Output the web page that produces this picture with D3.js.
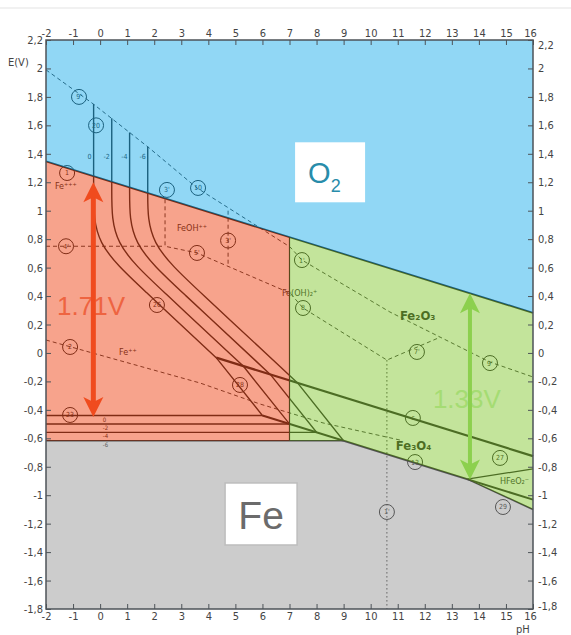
<!DOCTYPE html>
<html>
<head>
<meta charset="utf-8">
<script src="https://cdn.jsdelivr.net/npm/d3@7"></script>
<style>
body { margin: 0; background: #fff; }
svg { display: block; font-family: "DejaVu Sans Condensed", "DejaVu Sans", sans-serif; }
</style>
</head>
<body>
<div id="chart"></div>
<script>
// axis ticks
var phTicks = [-2, -1, 0, 1, 2, 3, 4, 5, 6, 7, 8, 9, 10, 11, 12, 13, 14, 15, 16];
var eTicks = [2.2, 2, 1.8, 1.6, 1.4, 1.2, 1, 0.8, 0.6, 0.4, 0.2, 0, -0.2, -0.4, -0.6, -0.8, -1, -1.2, -1.4, -1.6, -1.8];

// coloured domains, points as [pH, E]
var regionO2 = [[-2, 2.2], [16, 2.2], [16, 0.282], [-2, 1.346]];
var regionAcid = [[-2, 1.346], [7, 0.814], [7, -0.617], [-2, -0.617]];
var regionBase = [[7, 0.814], [16, 0.282], [16, -1.101], [13.57, -0.887], [9, -0.617], [7, -0.617]];
var regionFe = [[-2, -0.617], [9, -0.617], [13.57, -0.887], [16, -1.101], [16, -1.8], [-2, -1.8]];

// main equilibrium lines
var lineO2 = [[-2, 1.346], [16, 0.282]];
var lineFe2O3Fe3O4 = [[4.29, -0.033], [16, -0.725]];
var lineFe3O4Fe = [[6.0, -0.44], [16, -1.031]];
var lineFe3O4HFeO2 = [[13.57, -0.887], [16, -0.815]];
var lineHFeO2Fe = [[13.57, -0.887], [16, -1.101]];
var lineNeutral = [[7, 0.814], [7, -0.617]];

// solubility curves for log c = 0, -2, -4, -6
var concLabels = ["0", "-2", "-4", "-6"];
var curveUpper = [
    [[-0.24, 1.75], [-0.24, 1.12], [-0.24, 0.771], [1.56, 0.452], [4.29, -0.033]],
    [[0.43, 1.65], [0.43, 1.12], [0.43, 0.770], [2.23, 0.451], [5.29, -0.092]],
    [[1.09, 1.55], [1.09, 1.12], [1.09, 0.771], [2.89, 0.452], [6.29, -0.151]],
    [[1.76, 1.45], [1.76, 1.12], [1.76, 0.771], [3.56, 0.452], [7.29, -0.209]]
];
var curveLower = [
    [[4.29, -0.033], [6.0, -0.44], [-2, -0.44]],
    [[5.29, -0.092], [7.0, -0.499], [-2, -0.499]],
    [[6.29, -0.151], [8.0, -0.558], [-2, -0.558]],
    [[7.29, -0.209], [9.0, -0.617], [-2, -0.617]]
];

// dashed lines
var dashTop = [[-2, 1.99], [-0.3, 1.757], [1.77, 1.448], [3.58, 1.16], [7.02, 0.745], [7.46, 0.653], [10.71, 0.288], [14.41, -0.064], [16, -0.169]];
var dashFe3 = [[-2, 0.75], [2.4, 0.75]];
var dashMid = [[2.4, 1.08], [2.4, 0.75], [3.58, 0.703], [7.02, 0.421], [7.5, 0.316], [10.6, -0.05], [12.56, 0.11]];
var dashV = [[4.73, 1.0], [4.73, 0.61]];
var dashFe2 = [[-2, 0.091], [3.69, -0.211], [5.91, -0.359], [8.24, -0.492], [11.08, -0.612]];
var dotV = [[10.6, -0.05], [10.6, -1.8]];

// circled line numbers
var circleMarks = [
    {t: "9'", pH: -0.78, E: 1.80}, {t: "20", pH: -0.15, E: 1.60}, {t: "1", pH: -1.22, E: 1.265},
    {t: "3'", pH: 2.47, E: 1.146}, {t: "10", pH: 3.62, E: 1.16}, {t: "4'", pH: -1.26, E: 0.75},
    {t: "3'", pH: 4.73, E: 0.79}, {t: "5'", pH: 3.58, E: 0.703}, {t: "1'", pH: 7.46, E: 0.653},
    {t: "8", pH: 7.5, E: 0.316}, {t: "7'", pH: 11.71, E: 0.007}, {t: "9'", pH: 14.41, E: -0.071},
    {t: "26", pH: 2.1, E: 0.337}, {t: "28", pH: 5.17, E: -0.225}, {t: "2", pH: -1.11, E: 0.042},
    {t: "23", pH: -1.11, E: -0.436}, {t: "c", pH: 11.56, E: -0.457}, {t: "13", pH: 11.64, E: -0.767},
    {t: "27", pH: 14.78, E: -0.738}, {t: "29", pH: 14.89, E: -1.083}, {t: "1'", pH: 10.6, E: -1.118}
];

// species names
var speciesLabels = [
    {t: "Fe⁺⁺⁺", pH: -1.67, E: 1.15, bold: false},
    {t: "FeOH⁺⁺", pH: 2.84, E: 0.857, bold: false},
    {t: "Fe(OH)₂⁺", pH: 6.72, E: 0.40, bold: false},
    {t: "Fe⁺⁺", pH: 0.7, E: -0.014, bold: false},
    {t: "HFeO₂⁻", pH: 14.78, E: -0.92, bold: false},
    {t: "Fe₂O₃", pH: 11.08, E: 0.232, bold: true},
    {t: "Fe₃O₄", pH: 10.93, E: -0.68, bold: true}
];

// annotations
var acidGap = {pH: -0.25, top: 1.20, bottom: -0.45, label: "1.71V", labelPH: -1.59, labelE: 0.267};
var baseGap = {pH: 13.67, top: 0.42, bottom: -0.89, label: "1.33V", labelPH: 12.3, labelE: -0.387};

var width = 571, height = 635;
var svg = d3.select("#chart").append("svg")
    .attr("width", width)
    .attr("height", height);

var x = d3.scaleLinear().domain([-2, 16]).range([46, 533]);
var y = d3.scaleLinear().domain([-1.8, 2.2]).range([609, 40]);

var line = d3.line().x(function(d) { return x(d[0]); }).y(function(d) { return y(d[1]); });
var smooth = d3.line().x(function(d) { return x(d[0]); }).y(function(d) { return y(d[1]); }).curve(d3.curveBasis);

// faint rule at the top of the page
svg.append("line").attr("x1", 0).attr("x2", width).attr("y1", 8).attr("y2", 8)
    .style("stroke", "#ececec").style("stroke-width", 1.5);

// ink layer: everything drawn in black, later tinted by the colour overlays
var ink = svg.append("g");

function drawPath(pts, w, dash, smoothIt) {
    ink.append("path")
        .attr("d", (smoothIt ? smooth : line)(pts))
        .style("fill", "none")
        .style("stroke", "#111")
        .style("stroke-width", w)
        .style("stroke-dasharray", dash || null);
}

[dashTop, dashFe3, dashMid, dashV, dashFe2].forEach(function(p) { drawPath(p, 0.9, "4,3"); });
drawPath(dotV, 0.9, "1.5,2.5");

curveUpper.forEach(function(p) { drawPath(p, 1.4, null, true); });
curveLower.forEach(function(p) { drawPath(p, 1.4); });

drawPath(lineO2, 1.8);
drawPath(lineFe2O3Fe3O4, 2.2);
drawPath(lineFe3O4Fe, 2);
drawPath(lineFe3O4HFeO2, 1.2);
drawPath(lineHFeO2Fe, 1.6);
drawPath(lineNeutral, 1.2);

// concentration marks on the curves
curveUpper.forEach(function(p, i) {
    ink.append("text")
        .attr("x", x(p[0][0]) - 2).attr("y", y(1.36))
        .attr("text-anchor", "end")
        .style("font-size", "7px").style("fill", "#111")
        .text(concLabels[i]);
});
curveLower.forEach(function(p, i) {
    ink.append("text")
        .attr("x", x(0.1)).attr("y", y(p[2][1]) + 6)
        .style("font-size", "6px").style("fill", "#111")
        .text(concLabels[i]);
});

var marks = ink.selectAll(".mark").data(circleMarks).enter().append("g")
    .attr("transform", function(d) { return "translate(" + x(d.pH) + "," + y(d.E) + ")"; });
marks.append("circle").attr("r", 7.5)
    .style("fill", "none").style("stroke", "#111").style("stroke-width", 1);
marks.append("text").attr("text-anchor", "middle").attr("dy", "0.35em")
    .style("font-size", "7px").style("fill", "#111")
    .text(function(d) { return d.t; });

ink.selectAll(".species").data(speciesLabels).enter().append("text")
    .attr("x", function(d) { return x(d.pH); })
    .attr("y", function(d) { return y(d.E); })
    .style("font-size", function(d) { return d.bold ? "13px" : "9px"; })
    .style("font-weight", function(d) { return d.bold ? "bold" : "normal"; })
    .style("fill", "#111")
    .text(function(d) { return d.t; });

// colour overlays (half transparent so the lines underneath get tinted)
var regions = [
    {pts: regionO2, color: "rgb(35,175,235)"},
    {pts: regionAcid, color: "rgb(239,71,25)"},
    {pts: regionBase, color: "rgb(135,201,55)"},
    {pts: regionFe, color: "rgb(153,153,153)"}
];
svg.selectAll(".region").data(regions).enter().append("path")
    .attr("d", function(d) { return line(d.pts) + "Z"; })
    .style("fill", function(d) { return d.color; })
    .style("fill-opacity", 0.5)
    .style("stroke", "none");

// frame
svg.append("rect")
    .attr("x", x(-2)).attr("y", y(2.2))
    .attr("width", x(16) - x(-2)).attr("height", y(-1.8) - y(2.2))
    .style("fill", "none").style("stroke", "#4d5358").style("stroke-width", 1.5);

function fmt(d) { return String(d).replace(".", ","); }

function styleAxis(g) {
    g.select(".domain").remove();
    g.selectAll(".tick line").style("stroke", "#4d5358");
    g.selectAll(".tick text").style("font-size", "11px").style("fill", "#444")
        .style("font-family", "\"DejaVu Sans Condensed\", sans-serif");
}

var axTop = svg.append("g").attr("transform", "translate(0," + y(2.2) + ")")
    .call(d3.axisTop(x).tickValues(phTicks).tickFormat(fmt).tickSizeInner(-5).tickSizeOuter(0))
    .call(styleAxis);
var axBottom = svg.append("g").attr("transform", "translate(0," + y(-1.8) + ")")
    .call(d3.axisBottom(x).tickValues(phTicks).tickFormat(fmt).tickSizeInner(-5).tickSizeOuter(0))
    .call(styleAxis);
svg.append("g").attr("transform", "translate(" + x(-2) + ",0)")
    .call(d3.axisLeft(y).tickValues(eTicks).tickFormat(fmt).tickSizeInner(-5).tickSizeOuter(0))
    .call(styleAxis);
var axRight = svg.append("g").attr("transform", "translate(" + x(16) + ",0)")
    .call(d3.axisRight(y).tickValues(eTicks).tickFormat(fmt).tickSizeInner(-5).tickSizeOuter(0).tickPadding(5))
    .call(styleAxis);

// keep the corner labels from running into each other
axTop.selectAll(".tick text").filter(function(d) { return d === 16; }).attr("dx", -3);
axBottom.selectAll(".tick text").filter(function(d) { return d === 16; }).attr("dx", -3);
axRight.selectAll(".tick text").filter(function(d) { return d === 2.2; }).attr("dy", "0.75em");
axRight.selectAll(".tick text").filter(function(d) { return d === -1.8; }).attr("dy", "0.05em");

svg.append("text").attr("x", 8).attr("y", 66)
    .style("font-size", "11px").style("fill", "#444").text("E(V)");
svg.append("text").attr("x", 516).attr("y", 633)
    .style("font-size", "11px").style("fill", "#444").text("pH");

// white label boxes
var o2Box = svg.append("g").attr("transform", "translate(" + x(8.5) + "," + y(1.27) + ")");
o2Box.append("rect").attr("x", -35).attr("y", -30).attr("width", 70).attr("height", 60)
    .style("fill", "#fff");
o2Box.append("text").attr("x", -22).attr("y", 11)
    .style("font-family", "\"Liberation Sans\", Arial, sans-serif")
    .style("font-size", "29px").style("fill", "rgb(40,140,170)")
    .text("O")
    .append("tspan").attr("dy", 9).style("font-size", "18px").text("2");

var feBox = svg.append("g").attr("transform", "translate(" + x(5.95) + "," + y(-1.132) + ")");
feBox.append("rect").attr("x", -36).attr("y", -31).attr("width", 72).attr("height", 62)
    .style("fill", "#fff").style("stroke", "#bdbdbd").style("stroke-width", 1.5);
feBox.append("text").attr("text-anchor", "middle").attr("y", 15)
    .style("font-family", "\"Liberation Sans\", Arial, sans-serif")
    .style("font-size", "39px").style("fill", "#6b6b6b")
    .text("Fe");

// double arrows with the water window widths
function doubleArrow(gap, color, textColor, w) {
    var g = svg.append("g");
    var xa = x(gap.pH), y1 = y(gap.top), y2 = y(gap.bottom);
    g.append("text")
        .attr("x", x(gap.labelPH)).attr("y", y(gap.labelE))
        .style("font-family", "\"Liberation Sans\", Arial, sans-serif")
        .style("font-size", "26px").style("fill", textColor)
        .text(gap.label);
    g.append("line").attr("x1", xa).attr("x2", xa).attr("y1", y1 + 12).attr("y2", y2 - 12)
        .style("stroke", color).style("stroke-width", w);
    g.append("path")
        .attr("d", "M" + xa + "," + y1 + "l-10,20l10,-5l10,5z")
        .style("fill", color);
    g.append("path")
        .attr("d", "M" + xa + "," + y2 + "l-10,-20l10,5l10,-5z")
        .style("fill", color);
}
doubleArrow(acidGap, "rgb(240,75,30)", "rgb(238,100,65)", 5);
doubleArrow(baseGap, "rgb(140,208,78)", "rgb(165,220,115)", 4);
</script>
</body>
</html>
